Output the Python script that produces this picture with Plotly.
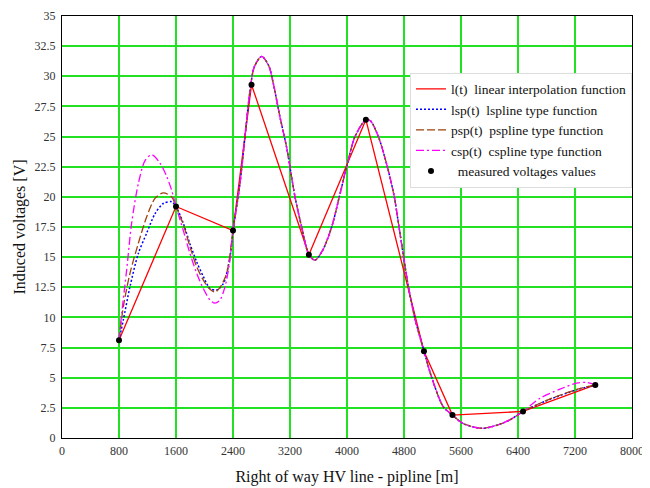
import plotly.graph_objects as go

# measured voltages
x_meas = [800, 1600, 2400, 2660, 3465, 4265, 5080, 5480, 6470, 7485]
y_meas = [8.1, 19.2, 17.2, 29.3, 15.2, 26.4, 7.2, 1.9, 2.2, 4.4]

# spline curves: first section (800-2400)
x_lsp_a = [800, 861, 954, 1071, 1189, 1305, 1422, 1539, 1600, 1703, 1796, 1891, 1983, 2077, 2171, 2264, 2358]
y_lsp_a = [8.1, 9.8, 12.55, 15.3, 17.0, 18.6, 19.45, 19.6, 19.2, 17.8, 16.1, 14.6, 13.4, 12.4, 12.28, 12.8, 15.0]

x_psp_a = [800, 861, 954, 1071, 1189, 1305, 1422, 1539, 1600, 1703, 1796, 1891, 1983, 2077, 2147, 2218, 2311]
y_psp_a = [8.1, 10.9, 13.66, 16.14, 18.35, 19.87, 20.33, 20.0, 19.2, 17.7, 15.86, 14.2, 13.1, 12.33, 12.1, 12.5, 13.66]

x_csp_a = [800, 838, 907, 977, 1071, 1165, 1259, 1375, 1469, 1539, 1600, 1703, 1796, 1891, 1983, 2077, 2147, 2218, 2288, 2358]
y_csp_a = [8.1, 10.35, 13.9, 17.8, 21.1, 23.0, 23.5, 22.8, 21.7, 20.55, 19.2, 17.2, 15.3, 13.66, 12.4, 11.45, 11.18, 11.45, 12.55, 14.76]

# middle section shared by all splines (2400-6470)
x_mid = [2400, 2498, 2568, 2639, 2700, 2803, 2900, 2966, 3060, 3153, 3270, 3364, 3465, 3551, 3661, 3785,
         3892, 3995, 4112, 4265, 4330, 4440, 4566, 4664, 4730, 4790, 4860, 4950, 5080, 5190, 5350, 5480,
         5630, 5900, 6150, 6300, 6470]
y_mid = [17.2, 21.1, 25.0, 28.8, 30.8, 31.65, 30.9, 29.4, 26.6, 24.1, 20.0, 17.5, 15.2, 14.75, 15.6, 17.5,
         20.0, 22.5, 25.0, 26.4, 26.3, 25.0, 22.5, 20.0, 17.5, 15.2, 12.6, 10.0, 7.2, 5.0, 2.6, 1.9,
         1.2, 0.8, 1.15, 1.55, 2.2]

# last section (6470-7485)
x_lsp_c = [6800, 7224, 7485]
y_lsp_c = [3.09, 4.0, 4.4]
x_psp_c = [6800, 7224, 7485]
y_psp_c = [3.12, 4.03, 4.4]
x_csp_c = [6709, 6989, 7224, 7364, 7485]
y_csp_c = [3.3, 4.05, 4.55, 4.6, 4.4]

serif = "Liberation Serif"
fig = go.Figure()

fig.add_trace(go.Scatter(x=x_meas, y=y_meas, mode="lines",
                         line=dict(color="#ff0000", width=1.3),
                         name="l(t)\u00a0\u00a0linear interpolation function"))
fig.add_trace(go.Scatter(x=x_lsp_a + x_mid + x_lsp_c, y=y_lsp_a + y_mid + y_lsp_c, mode="lines",
                         line=dict(color="#0000ff", width=1.5, dash="2px,2px", shape="spline", smoothing=0.8),
                         name="lsp(t)\u00a0\u00a0lspline type function"))
fig.add_trace(go.Scatter(x=x_psp_a + x_mid + x_psp_c, y=y_psp_a + y_mid + y_psp_c, mode="lines",
                         line=dict(color="#a0400a", width=1.3, dash="8px,3px", shape="spline", smoothing=0.8),
                         name="psp(t)\u00a0\u00a0pspline type function"))
fig.add_trace(go.Scatter(x=x_csp_a + x_mid + x_csp_c, y=y_csp_a + y_mid + y_csp_c, mode="lines",
                         line=dict(color="#ff00ff", width=1.3, dash="8px,3px,2px,3px", shape="spline", smoothing=0.8),
                         name="csp(t)\u00a0\u00a0cspline type function"))
fig.add_trace(go.Scatter(x=x_meas, y=y_meas, mode="markers",
                         marker=dict(color="black", size=6),
                         name="\u00a0\u00a0measured voltages values"))

# the page body adds an 8px offset, so the figure is 642x480 with margins compensating
fig.update_layout(
    width=642, height=480,
    margin=dict(l=54, r=18, t=8, b=50),
    paper_bgcolor="white", plot_bgcolor="white",
    font=dict(family=serif, size=12, color="#222222"),
    showlegend=True,
    legend=dict(x=1.0, xanchor="right", y=0.866, yanchor="top",
                bgcolor="white", bordercolor="#dddddd", borderwidth=1,
                font=dict(family=serif, size=13.5, color="#111111"),
                tracegroupgap=0, itemwidth=30),
    xaxis=dict(range=[0, 8000], tick0=0, dtick=800, showgrid=True, automargin=False,
               gridcolor="#22e022", gridwidth=1.5, zeroline=False,
               showline=True, linecolor="black", linewidth=1, mirror=True,
               ticks="outside", ticklen=2, tickcolor="rgba(0,0,0,0)",
               tickfont=dict(family=serif, size=12, color="#333333"),
               title=dict(text="Right of way HV line - pipline [m]",
                          font=dict(family=serif, size=16, color="#111111"), standoff=13)),
    yaxis=dict(range=[0, 35], tick0=0, dtick=2.5, showgrid=True, automargin=False,
               gridcolor="#22e022", gridwidth=1.5, zeroline=False,
               showline=True, linecolor="black", linewidth=1, mirror=True,
               ticks="outside", ticklen=3, tickcolor="rgba(0,0,0,0)",
               tickfont=dict(family=serif, size=12, color="#333333"),
               title=dict(text="Induced voltages [V]",
                          font=dict(family=serif, size=16, color="#111111"), standoff=4)),
)

fig.write_html("out.html")
